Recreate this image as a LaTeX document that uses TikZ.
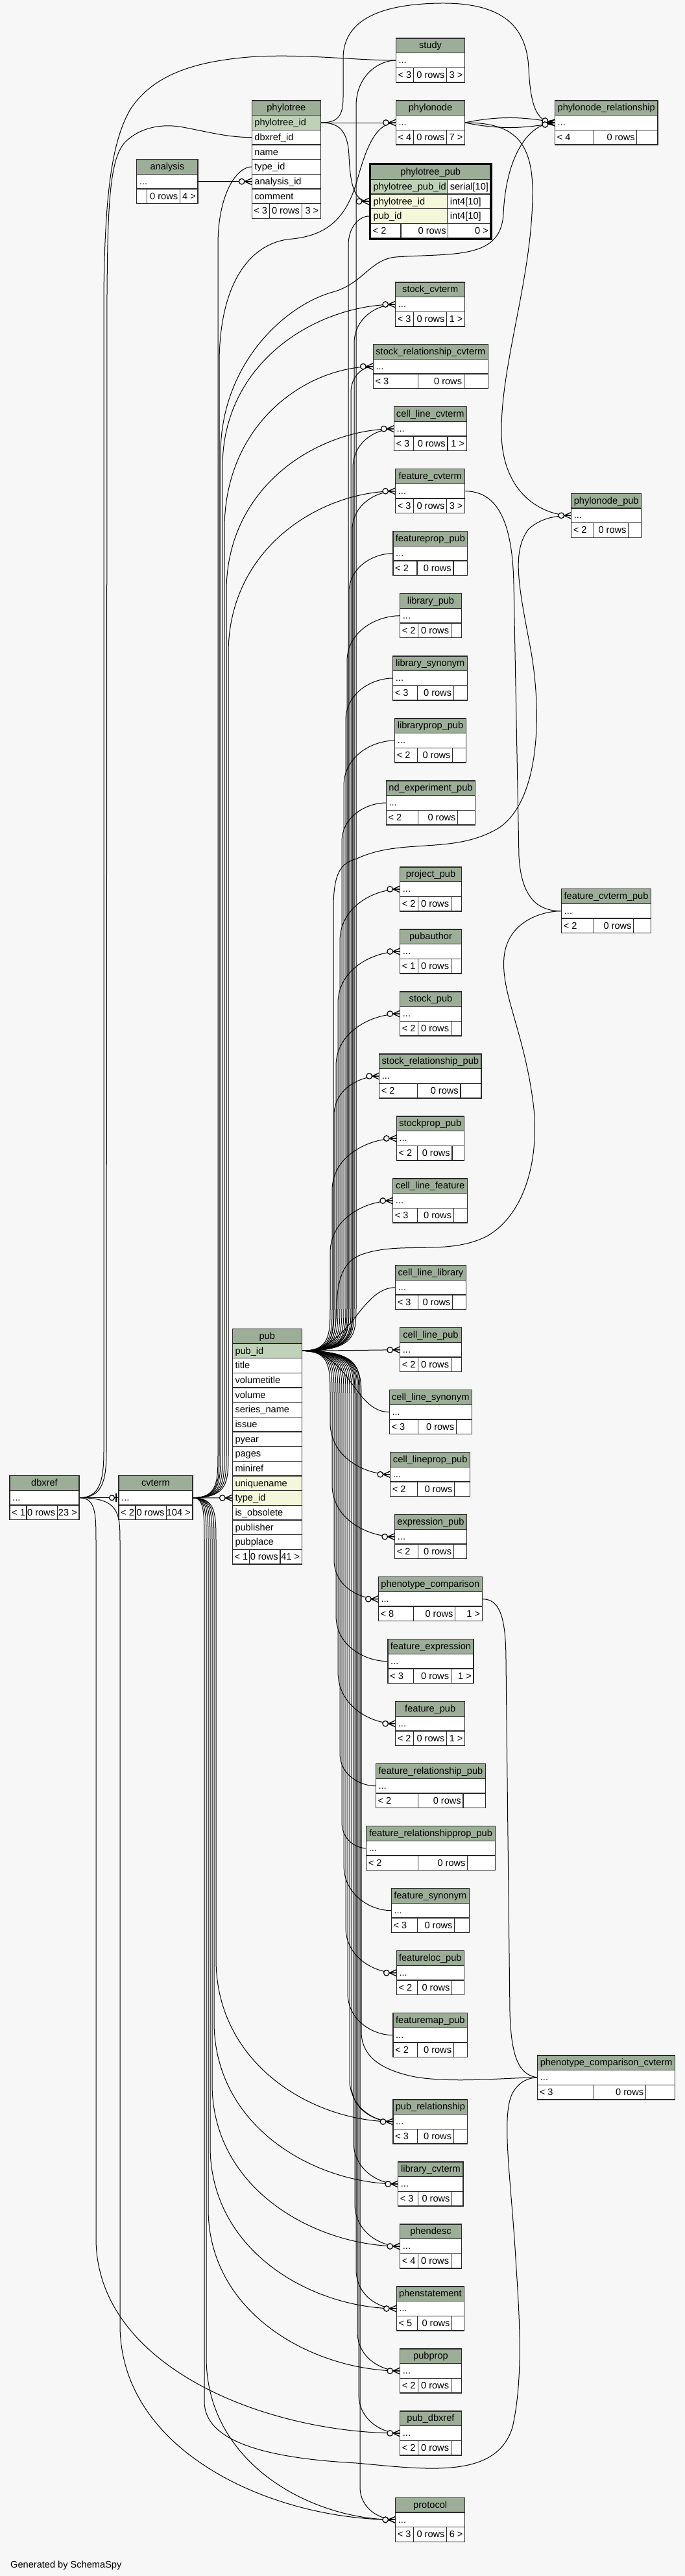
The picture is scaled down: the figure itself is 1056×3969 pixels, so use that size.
\documentclass[tikz,border=0pt]{standalone}
\usepackage{fontspec}
\setmainfont{Liberation Sans}
\usetikzlibrary{decorations.markings}
\pgfdeclarelayer{bgl}
\pgfdeclarelayer{edges}
\pgfsetlayers{bgl,edges,main}
\definecolor{bgc}{HTML}{F7F7F7}
\definecolor{hdrc}{HTML}{9DAE98}
\definecolor{pkc}{HTML}{BFD2B8}
\definecolor{idxc}{HTML}{F4F7DA}
\definecolor{bordc}{HTML}{2A2A2A}
\tikzset{
  tcell/.style={draw=bordc,line width=1.3pt},
  ttxt/.style={font=\fontsize{14.6}{17}\selectfont,inner sep=0pt,text=black},
  conn/.style={draw=black,line width=1pt},
  crowfoot/.style={postaction={decorate,decoration={markings,mark=at position 1 with {\draw[line width=1.3pt] (-11pt,0pt)--(0pt,5pt) (-11pt,0pt)--(0pt,-5pt) (-11pt,0pt)--(0pt,0pt); \draw[line width=1.2pt,fill=bgc] (-15.5pt,0pt) circle (4.3pt);}}}},
  onebar/.style={postaction={decorate,decoration={markings,mark=at position 1 with {\draw[line width=2.2pt] (-4pt,-6.5pt)--(-4pt,6.5pt); \draw[line width=1.2pt,fill=bgc] (-10.5pt,0pt) circle (4pt);}}}},
}
\newcommand\hdr[5]{%
  \filldraw[tcell,fill=hdrc] (#3,#5) rectangle (#4,{#5+22.67});
  \node[ttxt,anchor=base] (#1) at ({(#3+#4)/2},{#5+15.8}) {#2};}
\newcommand\trow[5]{%
  \filldraw[tcell,fill=#4] (#1,{#3}) rectangle (#2,{#3+22.67});
  \node[ttxt,anchor=base west] at ({#1+4},{#3+16}) {#5};}
\newcommand\tfoot[7]{%
  \filldraw[tcell,fill=white] (#1,{#3}) rectangle (#2,{#3+22.67});
  \draw[tcell] (#4,{#3}) -- (#4,{#3+22.67}) (#5,{#3}) -- (#5,{#3+22.67});
  \node[ttxt,anchor=base west] at ({#1+3},{#3+16}) {#6};
  \node[ttxt,anchor=base east] at ({#5-3},{#3+16}) {0 rows};
  \node[ttxt,anchor=base east] at ({#2-3},{#3+16}) {#7};}
\newcommand\tbl[9]{%
  \hdr{#1}{#2}{#3}{#4}{#5}%
  \trow{#3}{#4}{#5+22.67}{white}{...}%
  \tfoot{#3}{#4}{#5+45.33}{#6}{#7}{#8}{#9}%
  \coordinate (#1-w) at (#3,{#5+34});%
  \coordinate (#1-e) at (#4,{#5+34});}
\newcommand\fedge[8]{%
  \pgfmathsetmacro\qS{ifthenelse(#6<#3,-1,1)}%
  \pgfmathsetmacro\qA{#3+(\qS)*25}%
  \pgfmathsetmacro\qB{#3+(\qS)*70}%
  \pgfmathsetmacro\qC{#6-(\qS)*#8}%
  \pgfmathsetmacro\qD{#6-(\qS)*#8*0.35}%
  \pgfmathsetmacro\qE{#5-0.45*(#5-#7)}%
  \draw[conn,crowfoot,#1] (#2) .. controls (#7,#3) and (#7,\qA) .. (#7,\qB) -- (#7,\qC) .. controls (#7,\qD) and (\qE,#6) .. (#4);}
\begin{document}
\begin{tikzpicture}[x=1pt,y=-1pt]
\begin{pgfonlayer}{bgl}
\fill[bgc] (0,0) rectangle (1056,3969);
\end{pgfonlayer}
\useasboundingbox (0,0) rectangle (1056,3969);

% ---------- tables ----------
\tbl{study}{study}{610.4}{716.6}{59}{637.5}{688.6}{< 3}{3 >}
\tbl{phylonode}{phylonode}{610.4}{716.6}{155}{637.5}{688.6}{< 4}{7 >}
\tbl{pnr}{phylonode\_relationship}{855.5}{1014}{155}{915.8}{981.8}{< 4}{}
\tbl{analysis}{analysis}{210.8}{305}{245.7}{226.3}{277.4}{}{4 >}
\tbl{stockcvterm}{stock\_cvterm}{609.7}{716.7}{435}{637.7}{688.7}{< 3}{1 >}
\tbl{srcvterm}{stock\_relationship\_cvterm}{575.3}{752.3}{530.7}{644.7}{715.3}{< 3}{}
\tbl{clcvterm}{cell\_line\_cvterm}{607.3}{719.3}{626.7}{637.7}{690}{< 3}{1 >}
\tbl{fcvterm}{feature\_cvterm}{609.7}{716.7}{722.7}{637.7}{688.7}{< 3}{3 >}
\tbl{fproppub}{featureprop\_pub}{606}{720.7}{818.7}{643}{699}{< 2}{}
\tbl{pnpub}{phylonode\_pub}{880.7}{988.7}{760.3}{915.3}{968.7}{< 2}{}
\tbl{libpub}{library\_pub}{616.7}{711.3}{914.7}{644.7}{695.3}{< 2}{}
\tbl{libsyn}{library\_synonym}{605.7}{720.7}{1011}{643.3}{699.3}{< 3}{}
\tbl{libproppub}{libraryprop\_pub}{608.7}{718.3}{1107}{643.3}{697.7}{< 2}{}
\tbl{ndexppub}{nd\_experiment\_pub}{595.3}{732.7}{1203}{644.7}{705.7}{< 2}{}
\tbl{projpub}{project\_pub}{616.7}{711.3}{1336}{644.7}{695.3}{< 2}{}
\tbl{pubauthor}{pubauthor}{616.7}{711.3}{1432}{644.7}{695.3}{< 1}{}
\tbl{stockpub}{stock\_pub}{616.7}{711.3}{1528}{644.7}{695.3}{< 2}{}
\tbl{srpub}{stock\_relationship\_pub}{584.7}{742}{1624}{643.3}{710}{< 2}{}
\tbl{sproppub}{stockprop\_pub}{611.3}{715.3}{1720}{643.3}{697}{< 2}{}
\tbl{fcvtpub}{feature\_cvterm\_pub}{865.7}{1003.3}{1369.7}{915.3}{976.7}{< 2}{}
\tbl{clfeat}{cell\_line\_feature}{605.7}{720.7}{1816}{643.3}{699.3}{< 3}{}
\tbl{cllib}{cell\_line\_library}{609.7}{718.3}{1949.7}{644.7}{697.7}{< 3}{}
\tbl{clpub}{cell\_line\_pub}{616.7}{711.3}{2045.7}{644.7}{695.3}{< 2}{}
\tbl{clsyn}{cell\_line\_synonym}{600.3}{727.3}{2141.7}{644.7}{703.3}{< 3}{}
\tbl{clproppub}{cell\_lineprop\_pub}{601.7}{724.7}{2237.7}{643.3}{700.7}{< 2}{}
\tbl{exprpub}{expression\_pub}{608.7}{719.3}{2333.7}{644.7}{699.3}{< 2}{}
\tbl{phencomp}{phenotype\_comparison}{583.3}{743.3}{2429.7}{637.7}{701.7}{< 8}{1 >}
\tbl{fexpr}{feature\_expression}{598}{730}{2525.7}{637.7}{695.3}{< 3}{1 >}
\tbl{fpub}{feature\_pub}{609.7}{716.7}{2621.7}{637.7}{688.7}{< 2}{1 >}
\tbl{frpub}{feature\_relationship\_pub}{579.3}{748.7}{2717.7}{644.7}{714}{< 2}{}
\tbl{frppub}{feature\_relationshipprop\_pub}{564.7}{763.3}{2813.7}{644.7}{720.7}{< 2}{}
\tbl{fsyn}{feature\_synonym}{603.3}{723.3}{2909.7}{643.3}{700.7}{< 3}{}
\tbl{flocpub}{featureloc\_pub}{611.3}{715.3}{3005.7}{643.3}{696.7}{< 2}{}
\tbl{fmappub}{featuremap\_pub}{606}{720.7}{3101.7}{643.3}{699.3}{< 2}{}
\tbl{pcc}{phenotype\_comparison\_cvterm}{828.7}{1040.7}{3167}{915.3}{995.3}{< 3}{}
\tbl{pubrel}{pub\_relationship}{606}{720.7}{3235}{643.3}{699.3}{< 3}{}
\tbl{libcvterm}{library\_cvterm}{613.7}{714}{3331}{644.3}{696.7}{< 3}{}
\tbl{phendesc}{phendesc}{616.7}{711.3}{3427}{644.7}{695.3}{< 4}{}
\tbl{phenstmt}{phenstatement}{611.3}{715.3}{3523}{643.3}{696.7}{< 5}{}
\tbl{pubprop}{pubprop}{616.7}{711.3}{3619}{644.7}{695.3}{< 2}{}
\tbl{pubdbxref}{pub\_dbxref}{616.7}{711.3}{3715}{644.7}{695.3}{< 2}{}
\tbl{protocol}{protocol}{609.7}{716.7}{3848.3}{637.7}{688.7}{< 3}{6 >}
\tbl{dbxref}{dbxref}{15}{122}{2273.7}{41}{88.3}{< 1}{23 >}
\tbl{cvterm}{cvterm}{183}{297}{2273.7}{209}{256.7}{< 2}{104 >}

% phylotree
\hdr{phylotree}{phylotree}{388.2}{494.4}{155}
\trow{388.2}{494.4}{177.67}{pkc}{phylotree\_id}
\trow{388.2}{494.4}{200.33}{white}{dbxref\_id}
\trow{388.2}{494.4}{223}{white}{name}
\trow{388.2}{494.4}{245.67}{white}{type\_id}
\trow{388.2}{494.4}{268.33}{white}{analysis\_id}
\trow{388.2}{494.4}{291}{white}{comment}
\tfoot{388.2}{494.4}{313.67}{415.2}{465.2}{< 3}{3 >}
\coordinate (ptpk) at (494.4,189);
\coordinate (ptdbx) at (388.2,211.67);
\coordinate (pttype) at (388.2,257);
\coordinate (ptan) at (388.2,279.67);

% phylotree_pub
\hdr{phylotreepub}{phylotree\_pub}{571.5}{756}{253.67}
\trow{571.5}{689.6}{276.33}{pkc}{phylotree\_pub\_id}
\trow{689.6}{756}{276.33}{white}{serial[10]}
\trow{571.5}{689.6}{299}{idxc}{phylotree\_id}
\trow{689.6}{756}{299}{white}{int4[10]}
\trow{571.5}{689.6}{321.67}{idxc}{pub\_id}
\trow{689.6}{756}{321.67}{white}{int4[10]}
\tfoot{571.5}{756}{344.33}{617.9}{690.8}{< 2}{0 >}
\draw[line width=3pt,draw=black] (570.5,252.5) rectangle (757,368);
\coordinate (ptpubpt) at (569,310.3);
\coordinate (ptpubpub) at (569,333);

% pub
\hdr{pub}{pub}{358.3}{465.3}{2047.33}
\trow{358.3}{465.3}{2070}{pkc}{pub\_id}
\trow{358.3}{465.3}{2092.67}{white}{title}
\trow{358.3}{465.3}{2115.33}{white}{volumetitle}
\trow{358.3}{465.3}{2138}{white}{volume}
\trow{358.3}{465.3}{2160.67}{white}{series\_name}
\trow{358.3}{465.3}{2183.33}{white}{issue}
\trow{358.3}{465.3}{2206}{white}{pyear}
\trow{358.3}{465.3}{2228.67}{white}{pages}
\trow{358.3}{465.3}{2251.33}{white}{miniref}
\trow{358.3}{465.3}{2274}{idxc}{uniquename}
\trow{358.3}{465.3}{2296.67}{idxc}{type\_id}
\trow{358.3}{465.3}{2319.33}{white}{is\_obsolete}
\trow{358.3}{465.3}{2342}{white}{publisher}
\trow{358.3}{465.3}{2364.67}{white}{pubplace}
\tfoot{358.3}{465.3}{2387.33}{384.3}{432}{< 1}{41 >}
\coordinate (pubout) at (465.3,2081.33);
\coordinate (pubtype) at (358.3,2308);

\node[ttxt,anchor=base west] (credit) at (16,3956) {Generated by SchemaSpy};

% ---------- connectors ----------
\begin{pgfonlayer}{edges}
% from pub
\fedge{}{pubout}{2081.33}{study-w}{610.4}{93}{549}{70}
\fedge{}{pubout}{2081.33}{ptpubpub}{569}{333}{537}{45}
\fedge{}{pubout}{2081.33}{stockcvterm-w}{609.7}{469}{546}{60}
\fedge{}{pubout}{2081.33}{srcvterm-w}{575.3}{564.7}{541}{40}
\fedge{}{pubout}{2081.33}{clcvterm-w}{607.3}{660.7}{544}{60}
\fedge{}{pubout}{2081.33}{fcvterm-w}{609.7}{756.7}{543}{60}
\fedge{}{pubout}{2081.33}{fproppub-w}{606}{852.7}{538}{60}
\fedge{}{pubout}{2081.33}{libpub-w}{616.7}{948.7}{535}{70}
\fedge{}{pubout}{2081.33}{libsyn-w}{605.7}{1045}{533}{65}
\fedge{}{pubout}{2081.33}{libproppub-w}{608.7}{1141}{530}{70}
\fedge{}{pubout}{2081.33}{ndexppub-w}{595.3}{1237}{527}{60}
\fedge{}{pubout}{2081.33}{projpub-w}{616.7}{1370}{524}{80}
\fedge{}{pubout}{2081.33}{pubauthor-w}{616.7}{1466}{521}{80}
\fedge{}{pubout}{2081.33}{stockpub-w}{616.7}{1562}{518}{80}
\fedge{}{pubout}{2081.33}{srpub-w}{584.7}{1658}{515}{60}
\fedge{}{pubout}{2081.33}{sproppub-w}{611.3}{1754}{512}{80}
\fedge{}{pubout}{2081.33}{clfeat-w}{605.7}{1850}{509}{80}
\draw[conn,crowfoot] (pubout) .. controls (540,2081.33) and (555,1983.7) .. (cllib-w);
\draw[conn,crowfoot] (pubout) -- (clpub-w);
\draw[conn,crowfoot] (pubout) .. controls (540,2081.33) and (545,2175.7) .. (clsyn-w);
\fedge{}{pubout}{2081.33}{clproppub-w}{601.7}{2271.7}{509}{80}
\fedge{}{pubout}{2081.33}{exprpub-w}{608.7}{2367.7}{512}{80}
\fedge{}{pubout}{2081.33}{phencomp-w}{583.3}{2463.7}{515}{60}
\fedge{}{pubout}{2081.33}{fexpr-w}{598}{2559.7}{518}{70}
\fedge{}{pubout}{2081.33}{fpub-w}{609.7}{2655.7}{521}{80}
\fedge{}{pubout}{2081.33}{frpub-w}{579.3}{2751.7}{524}{50}
\fedge{}{pubout}{2081.33}{frppub-w}{564.7}{2847.7}{527}{40}
\fedge{}{pubout}{2081.33}{fsyn-w}{603.3}{2943.7}{530}{70}
\fedge{}{pubout}{2081.33}{flocpub-w}{611.3}{3039.7}{533}{70}
\fedge{}{pubout}{2081.33}{fmappub-w}{606}{3135.7}{536}{65}
\fedge{}{pubout}{2081.33}{pubrel-w}{606}{3269}{539}{65}
\fedge{}{pubout}{2081.33}{pubrel-w}{606}{3269}{542}{55}
\fedge{}{pubout}{2081.33}{libcvterm-w}{613.7}{3365}{545}{65}
\fedge{}{pubout}{2081.33}{phendesc-w}{616.7}{3461}{547}{65}
\fedge{}{pubout}{2081.33}{phenstmt-w}{611.3}{3557}{549}{60}
\fedge{}{pubout}{2081.33}{pubprop-w}{616.7}{3653}{551}{60}
\fedge{}{pubout}{2081.33}{pubdbxref-w}{616.7}{3749}{553}{60}
\fedge{}{pubout}{2081.33}{protocol-w}{609.7}{3882.3}{555}{50}
\draw[conn,crowfoot] (pubout) .. controls (514,2081.33) and (514,2060) .. (514,2010) -- (514,1400) .. controls (514,1345) and (525,1330) .. (550,1323) .. controls (620,1290) and (700,1318) .. (770,1275) .. controls (832,1232) and (836,1100) .. (818,1000) .. controls (800,905) and (788,850) .. (815,815) .. controls (835,797) and (860,794.3) .. (pnpub-w);
\draw[conn,crowfoot] (pubout) .. controls (517,2081.33) and (517,2060) .. (519,2010) .. controls (521,1960) and (535,1940) .. (560,1932) .. controls (620,1912) and (690,1935) .. (750,1905) .. controls (812,1870) and (832,1780) .. (822,1700) .. controls (808,1590) and (772,1530) .. (777,1475) .. controls (782,1420) and (835,1403.7) .. (fcvtpub-w);
\draw[conn,crowfoot] (pubout) .. controls (557,2081.33) and (557,2110) .. (557,2160) -- (557,3130) .. controls (557,3170) and (590,3190) .. (640,3200) .. controls (700,3210) and (780,3201) .. (pcc-w);
% from cvterm
\draw[conn,crowfoot] (cvterm-e) -- (pubtype);
\fedge{}{cvterm-e}{2307.67}{pttype}{388.2}{257}{336}{120}
\fedge{}{cvterm-e}{2307.67}{stockcvterm-w}{609.7}{469}{343}{250}
\fedge{}{cvterm-e}{2307.67}{srcvterm-w}{575.3}{564.7}{346}{250}
\fedge{}{cvterm-e}{2307.67}{clcvterm-w}{607.3}{660.7}{349}{250}
\fedge{}{cvterm-e}{2307.67}{fcvterm-w}{609.7}{756.7}{352}{250}
\draw[conn,crowfoot] (cvterm-e) .. controls (338,2307.67) and (338,2282) .. (338,2237) -- (338,560) .. controls (338,430) and (390,372) .. (451,368) .. controls (510,362) and (535,330) .. (550,280) .. controls (565,225) and (580,189) .. (phylonode-w);
\draw[conn,crowfoot] (cvterm-e) .. controls (340,2307.67) and (340,2282) .. (340,2237) -- (340,700) .. controls (340,560) and (440,470) .. (513,450) .. controls (560,437) and (570,400) .. (610,396) .. controls (700,390) and (772,400) .. (776,330) .. controls (780,240) and (815,189) .. (pnr-w);
\fedge{}{cvterm-e}{2307.67}{pubrel-w}{606}{3269}{333}{250}
\fedge{}{cvterm-e}{2307.67}{libcvterm-w}{613.7}{3365}{330}{250}
\fedge{}{cvterm-e}{2307.67}{phendesc-w}{616.7}{3461}{327}{250}
\fedge{}{cvterm-e}{2307.67}{phenstmt-w}{611.3}{3557}{324}{250}
\fedge{}{cvterm-e}{2307.67}{pubprop-w}{616.7}{3653}{321}{250}
\fedge{}{cvterm-e}{2307.67}{protocol-w}{609.7}{3882.3}{318}{250}
\draw[conn,crowfoot] (cvterm-e) .. controls (315,2307.67) and (315,2330) .. (315,2380) -- (315,3700) .. controls (315,3765) and (420,3788) .. (550,3795) .. controls (660,3805) and (765,3820) .. (790,3740) .. controls (808,3660) and (800,3560) .. (795,3480) .. controls (788,3360) and (772,3260) .. (790,3225) .. controls (800,3207) and (815,3201) .. (pcc-w);
% from dbxref
\draw[conn,onebar] (dbxref-e) -- (cvterm-w);
\draw[conn,crowfoot] (dbxref-e) .. controls (152,2307.67) and (160,2285) .. (160,2237) -- (160,450) .. controls (162,300) and (172,220) .. (200,170) .. controls (235,115) and (300,95) .. (383,88) .. controls (460,82) and (545,93) .. (study-w);
\draw[conn,crowfoot] (dbxref-e) .. controls (156,2307.67) and (164,2285) .. (164,2237) -- (165,450) .. controls (166,310) and (170,245) .. (192,220) .. controls (215,196) and (250,190) .. (282,196) .. controls (320,203) and (350,211.67) .. (ptdbx);
\fedge{}{dbxref-e}{2307.67}{pubdbxref-w}{616.7}{3749}{148}{300}
\fedge{}{dbxref-e}{2307.67}{protocol-w}{609.7}{3882.3}{185}{300}
% others
\draw[conn,crowfoot] (analysis-e) -- (ptan);
\draw[conn,crowfoot] (ptpk) -- (phylonode-w);
\draw[conn,crowfoot] (ptpk) .. controls (522,189) and (536,200) .. (538,240) .. controls (540,290) and (548,310.3) .. (ptpubpt);
\draw[conn,crowfoot] (ptpk) .. controls (520,189) and (529,180) .. (529,150) -- (529,90) .. controls (529,40) and (570,6) .. (680,5) .. controls (780,4) and (812,45) .. (815,105) .. controls (818,170) and (830,189) .. (pnr-w);
\draw[conn,crowfoot] (phylonode-e) .. controls (770,178) and (810,180) .. (pnr-w);
\draw[conn,crowfoot] (phylonode-e) .. controls (770,200) and (810,198) .. (pnr-w);
\draw[conn,crowfoot] (phylonode-e) .. controls (790,189) and (822,215) .. (821,300) .. controls (820,430) and (772,560) .. (773,667) .. controls (774,760) and (835,794.3) .. (pnpub-w);
\draw[conn,crowfoot] (fcvterm-e) .. controls (765,756.7) and (790,800) .. (792,900) -- (800,1320) .. controls (804,1385) and (830,1403.7) .. (fcvtpub-w);
\draw[conn,crowfoot] (phencomp-e) .. controls (770,2463.7) and (780,2490) .. (780,2560) -- (786,3100) .. controls (788,3170) and (800,3197) .. (pcc-w);
\end{pgfonlayer}
\end{tikzpicture}
\end{document}
